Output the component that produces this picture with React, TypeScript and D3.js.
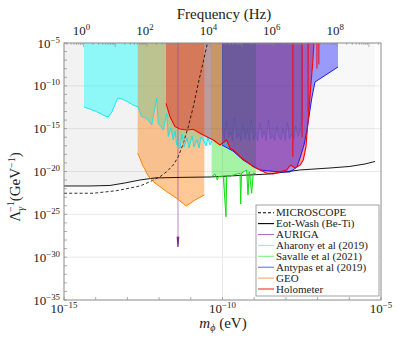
import React from 'react';
import * as d3 from 'd3';

// ---- data (log10 of mass in eV, log10 of coupling in GeV^-1) ----
const eotMass = [-15, -14.18, -13.55, -13.08, -12.6, -12.13, -11.34, -10.39, -9.45, -8.5, -7.56, -6.61, -5.98, -5.5, -5.19];
const eotCoupling = [-21.69, -21.69, -21.63, -21.34, -20.99, -20.75, -20.69, -20.64, -20.46, -20.29, -19.82, -19.59, -19.41, -19.12, -18.83];

const micMass = [-15, -14.076, -13.338, -12.603, -12.287, -11.972, -11.76, -11.552, -11.394, -11.237, -11.079, -10.921, -10.764, -10.606, -10.473];
const micCoupling = [-22.54, -22.54, -22.24, -21.69, -21.19, -20.61, -20.02, -19.24, -18.27, -16.71, -14.77, -12.44, -9.7, -7.18, -5.0];

const aharonyMass = [-14.369, -14.022, -13.707, -13.612, -13.486, -13.36, -13.297, -13.17, -12.981, -12.823, -12.666, -12.549, -12.391, -12.233, -12.076, -12.025, -11.868, -11.76, -11.71, -11.625, -11.552, -11.498, -11.445, -11.341, -11.278, -11.215, -11.12, -11.057, -10.962, -10.899, -10.804, -10.741, -10.678, -10.606, -10.521, -10.457, -10.394, -10.331];
const aharonyCoupling = [-12.47, -12.94, -13.52, -13.64, -13.05, -11.89, -11.42, -11.54, -11.89, -12.24, -12.47, -13.6, -13.79, -14.57, -11.45, -14.37, -15.16, -13.21, -15.94, -14.92, -16.32, -15.27, -16.91, -17.29, -15.62, -17.14, -16.09, -17.26, -15.86, -17.14, -16.32, -17.26, -15.97, -16.32, -17.02, -16.09, -16.91, -16.44];

const geoMass = [-12.675, -12.603, -12.56, -12.498, -12.45, -12.391, -12.287, -12.183, -11.972, -11.76, -11.445, -11.142, -10.868, -10.574];
const geoCoupling = [-17.88, -18.46, -18.9, -19.44, -19.7, -20.21, -20.79, -21.19, -21.77, -22.36, -23.13, -24.03, -23.33, -22.74];

const aurigaMass = [-11.43, -11.428, -11.405, -11.382, -11.38];
const aurigaCoupling = [-5, -27.6, -28.8, -27.6, -5];

const holoMass = [-11.782, -11.656, -11.498, -11.341, -11.129, -10.921, -10.71, -10.498, -10.29, -10.079, -9.868, -9.763, -9.659, -9.448, -9.237, -9.028, -8.817, -8.606, -8.397, -8.186, -7.975, -7.849, -7.713, -7.555, -7.451, -7.366, -7.325, -7.281, -7.24, -7.199, -7.155, -7.114];
const holoCoupling = [-12.04, -13.6, -14.77, -15.04, -15.16, -15.07, -15.54, -15.94, -16.32, -16.91, -16.32, -17.29, -17.49, -18.27, -18.86, -19.44, -19.82, -20.21, -20.29, -20.02, -19.82, -19.24, -19.59, -19.24, -18.66, -17.1, -15.16, -13.21, -11.27, -9.32, -7.37, -5.0];
const holoSpikeMass = [-7.78, -7.49, -7.3, -7.02, -6.96];
const holoSpikeLow = [-18.3, -16.0, -13.0, -8.0, -7.5];

const savalleMass = [-10.341, -10.237, -10.164, -10.133, -9.975, -9.89, -9.868, -9.659, -9.448, -9.426, -9.4, -9.237, -9.196, -9.155, -9.079, -9.028, -8.943];
const savalleCoupling = [-20.61, -20.29, -21.0, -20.61, -20.61, -25.28, -20.61, -20.41, -20.21, -23.79, -20.18, -19.82, -22.74, -20.02, -22.54, -20.18, -20.29];

const antypasMass = [-10.016, -9.669, -9.353, -9.038, -8.817, -8.502, -8.186, -7.871, -7.776, -7.65, -7.555, -7.429, -7.334, -7.24, -7.177, -7.082, -6.357];
const antypasCoupling = [-16.91, -17.61, -18.66, -19.36, -19.82, -19.94, -20.06, -20.06, -19.82, -19.47, -18.42, -16.91, -15.16, -12.82, -11.3, -9.55, -7.8];
const antypasNoiseMass = [-10.0, -9.94, -9.88, -9.81, -9.75, -9.68, -9.62, -9.55, -9.48, -9.42, -9.35, -9.29, -9.22, -9.15, -9.09, -9.02, -8.95, -8.89, -8.82, -8.75, -8.69, -8.62, -8.55, -8.49, -8.42, -8.35, -8.29, -8.22, -8.15, -8.09, -8.02, -7.95, -7.89, -7.82, -7.75, -7.69, -7.62, -7.55, -7.48];
const antypasNoiseLow = [-15.2, -16.3, -14.1, -16.0, -15.4, -16.4, -13.8, -16.1, -15.6, -16.4, -14.6, -16.2, -15.1, -16.4, -13.9, -16.3, -15.7, -16.4, -14.4, -16.1, -15.3, -16.4, -14.0, -16.2, -15.8, -16.4, -14.8, -16.0, -16.3, -15.0, -16.4, -14.3, -16.2, -15.6, -16.3, -14.7, -15.9, -15.2, -13.5];

const massTicks = [-15, -10, -5];
const couplingTicks = [-35, -30, -25, -20, -15, -10, -5];
const freqTicks = [0, 2, 4, 6, 8];
const LOG_H = Math.log10(4.135667e-15);

const legendLabels = ['MICROSCOPE', 'Eot-Wash (Be-Ti)', 'AURIGA', 'Aharony et al (2019)', 'Savalle et al (2021)', 'Antypas et al (2019)', 'GEO', 'Holometer'];
const legendColors = ['#000', '#000', '#b06cc8', '#7ff4f4', '#80f080', '#6d6dff', '#ffa860', '#ff2a2a'];

const X0 = 64, X1 = 381, Y0 = 43, Y1 = 300;
const FONT = "'Liberation Serif', 'Times New Roman', 'DejaVu Serif', serif";

function Pow({ x, y, base, exp, anchor, size = 13 }: any) {
  return (
    <text x={x} y={y} textAnchor={anchor} style={{ fontFamily: FONT, fontSize: size }} fill="#222">
      {base}
      <tspan dy={-5} style={{ fontSize: size * 0.68 }}>{exp}</tspan>
    </text>
  );
}

export default function App() {
  const x = d3.scaleLinear().domain([-15, -5]).range([X0, X1]);
  const y = d3.scaleLinear().domain([-5, -35]).range([Y0, Y1]);
  const zip = (a: number[], b: number[]) => a.map((v, i) => [v, b[i]] as [number, number]);
  const areaTop = d3.area<[number, number]>().x(d => x(d[0])).y0(y(-5)).y1(d => y(d[1]));
  const line = d3.line<[number, number]>().x(d => x(d[0])).y(d => y(d[1]));
  const fmt = (v: number) => String(v).replace('-', '−');

  const freqMinor: { m: number; major: boolean }[] = [];
  for (let lf = -1; lf <= 9; lf++) {
    for (let k = 1; k <= 9; k++) {
      const lm = lf + Math.log10(k) + LOG_H;
      if (lm > -15 && lm < -5) freqMinor.push({ m: lm, major: k === 1 });
    }
  }

  return (
    <svg width={409} height={343} style={{ position: 'absolute', left: 0, top: 0, background: '#fff', fontFamily: FONT }}>
      <defs>
        <clipPath id="plot"><rect x={X0} y={Y0} width={X1 - X0} height={Y1 - Y0} /></clipPath>
      </defs>
      <rect x={0} y={0} width={409} height={343} fill="#fff" />
      <g clipPath="url(#plot)">
        {[-30, -25, -20, -15, -10].map(v => (
          <line key={'gy' + v} x1={X0} x2={X1} y1={y(v)} y2={y(v)} stroke="#e4e4e4" strokeWidth={0.8} />
        ))}
        <line x1={x(-10)} x2={x(-10)} y1={Y0} y2={Y1} stroke="#e4e4e4" strokeWidth={0.8} />
        <path d={areaTop(zip(eotMass, eotCoupling))!} fill="rgba(0,0,0,0.028)" />
        <path d={areaTop(zip(micMass, micCoupling))!} fill="rgba(0,0,0,0.025)" />
        <path d={areaTop(zip(aharonyMass, aharonyCoupling))!} fill="rgba(0,255,255,0.41)" />
        <path d={areaTop(zip(geoMass, geoCoupling))!} fill="rgba(255,121,0,0.41)" />
        <path d={areaTop(zip(savalleMass, savalleCoupling))!} fill="rgba(0,235,0,0.33)" />
        <path d={areaTop(zip(holoMass, holoCoupling))!} fill="rgba(255,0,0,0.38)" />
        <path d={areaTop(zip(antypasMass, antypasCoupling))!} fill="rgba(0,0,255,0.38)" />
        <path d={areaTop(zip(antypasNoiseMass, antypasNoiseLow))!} fill="rgba(60,80,140,0.22)" stroke="rgba(40,70,190,0.45)" strokeWidth={0.6} />
        <path d={areaTop(zip(aurigaMass, aurigaCoupling))!} fill="rgba(150,70,170,0.45)" />
        <path d={line(zip(micMass, micCoupling))!} fill="none" stroke="#000" strokeWidth={0.8} strokeDasharray="3,2.2" />
        <path d={line(zip(eotMass, eotCoupling))!} fill="none" stroke="#000" strokeWidth={0.9} />
        <path d={line(zip(aharonyMass, aharonyCoupling))!} fill="none" stroke="rgba(0,230,240,0.85)" strokeWidth={1} />
        <path d={line(zip(geoMass, geoCoupling))!} fill="none" stroke="#ff8000" strokeWidth={1} />
        <path d={line(zip(savalleMass, savalleCoupling))!} fill="none" stroke="#10e010" strokeWidth={1} />
        <path d={line(zip(antypasMass, antypasCoupling))!} fill="none" stroke="#1a1aff" strokeWidth={1} />
        <path d={line(zip(holoMass, holoCoupling))!} fill="none" stroke="#ff0000" strokeWidth={1.1} />
        {holoSpikeMass.map((m, i) => (
          <line key={'hs' + i} x1={x(m)} x2={x(m)} y1={Y0} y2={y(holoSpikeLow[i])} stroke="#ff0000" strokeWidth={1} />
        ))}
        <path d={line(zip(aurigaMass, aurigaCoupling).slice(1, 4))!} fill="none" stroke="#7a2a90" strokeWidth={1.2} />
      </g>
      <rect x={X0} y={Y0} width={X1 - X0} height={Y1 - Y0} fill="none" stroke="#8a8a8a" strokeWidth={1} />
      {d3.range(-35, -4).map(v => (
        <line key={'lt' + v} x1={X0} x2={X0 + 3} y1={y(v)} y2={y(v)} stroke="#8a8a8a" strokeWidth={0.7} />
      ))}
      {d3.range(-15, -4).map(v => (
        <line key={'bt' + v} x1={x(v)} x2={x(v)} y1={Y1} y2={Y1 - 3} stroke="#8a8a8a" strokeWidth={0.7} />
      ))}
      {freqMinor.map((t, i) => (
        <line key={'ft' + i} x1={x(t.m)} x2={x(t.m)} y1={Y0} y2={Y0 + (t.major ? 4 : 2)} stroke="#8a8a8a" strokeWidth={0.6} />
      ))}
      {couplingTicks.map(v => (
        <Pow key={'yl' + v} x={60} y={y(v) + 4.5} base="10" exp={fmt(v)} anchor="end" />
      ))}
      {massTicks.map(v => (
        <Pow key={'xl' + v} x={x(v)} y={313} base="10" exp={fmt(v)} anchor="middle" />
      ))}
      {freqTicks.map(v => (
        <Pow key={'fl' + v} x={x(v + LOG_H) - 2} y={35} base="10" exp={fmt(v)} anchor="middle" />
      ))}
      <text x={224} y={19} textAnchor="middle" style={{ fontFamily: FONT, fontSize: 15 }} fill="#222">Frequency (Hz)</text>
      <text x={223} y={328} textAnchor="middle" style={{ fontFamily: FONT, fontSize: 15 }} fill="#222">
        <tspan fontStyle="italic">m</tspan>
        <tspan dy={3} style={{ fontSize: 10 }} fontStyle="italic">ϕ</tspan>
        <tspan dy={-3}> (eV)</tspan>
      </text>
      <text transform="translate(20,187) rotate(-90)" textAnchor="middle" style={{ fontFamily: FONT, fontSize: 15 }} fill="#222">
        Λ<tspan dy={4} style={{ fontSize: 10 }} fontStyle="italic">γ</tspan>
        <tspan dx={-5} dy={-10} style={{ fontSize: 10 }}>−1</tspan>
        <tspan dy={6}>(GeV</tspan>
        <tspan dy={-5} style={{ fontSize: 10 }}>−1</tspan>
        <tspan dy={5}>)</tspan>
      </text>
      <rect x={256} y={205} width={123} height={91} fill="#fff" stroke="#8a8a8a" strokeWidth={0.8} />
      {legendLabels.map((lab, i) => {
        const ly = 212.7 + i * 10.9;
        return (
          <g key={lab}>
            <line x1={258} x2={274} y1={ly} y2={ly} stroke={legendColors[i]} strokeWidth={1.1} strokeDasharray={i === 0 ? '3,2' : undefined} />
            <text x={276} y={ly + 3.6} style={{ fontFamily: FONT, fontSize: 11 }} fill="#222">{lab}</text>
          </g>
        );
      })}
    </svg>
  );
}
